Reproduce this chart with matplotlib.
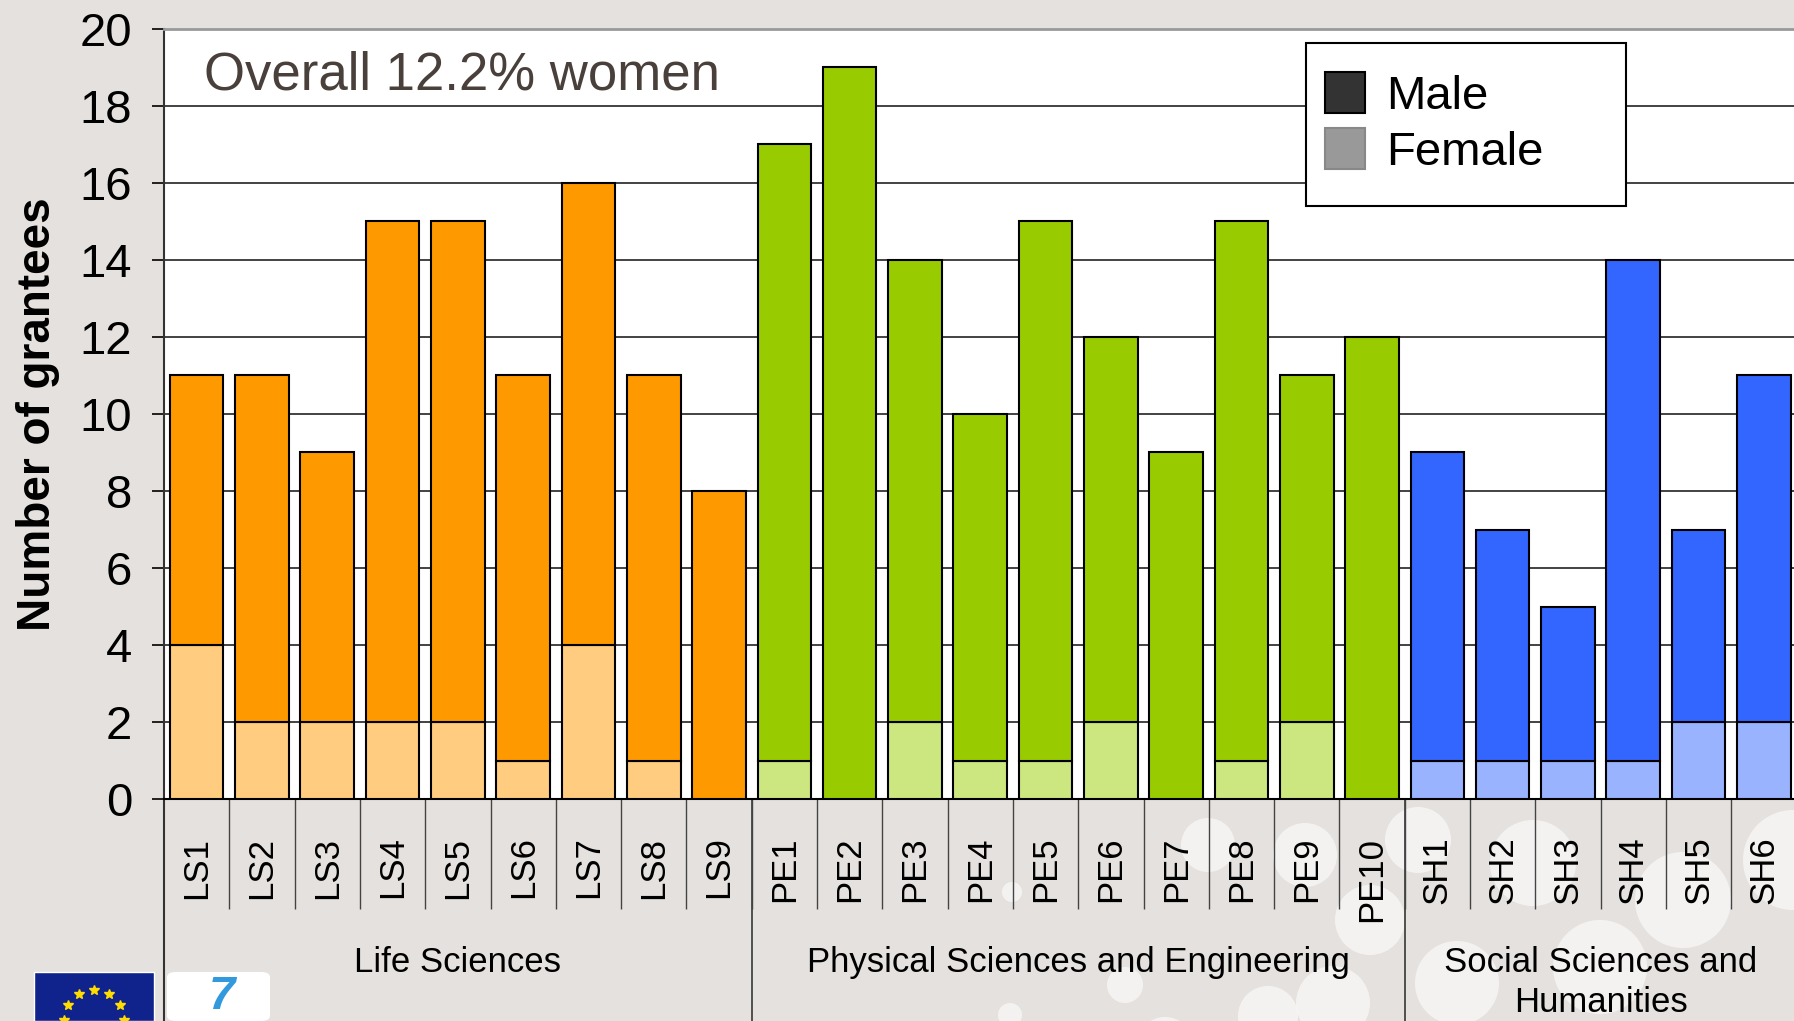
import matplotlib
matplotlib.use('Agg')
import matplotlib.pyplot as plt
from matplotlib.patches import Rectangle, Ellipse, Patch, FancyBboxPatch
import matplotlib.transforms as mtransforms
import numpy as np

# ---------------- data ----------------
categories = ['LS1', 'LS2', 'LS3', 'LS4', 'LS5', 'LS6', 'LS7', 'LS8', 'LS9',
              'PE1', 'PE2', 'PE3', 'PE4', 'PE5', 'PE6', 'PE7', 'PE8', 'PE9', 'PE10',
              'SH1', 'SH2', 'SH3', 'SH4', 'SH5', 'SH6']
totals = [11, 11, 9, 15, 15, 11, 16, 11, 8,
          17, 19, 14, 10, 15, 12, 9, 15, 11, 12,
          9, 7, 5, 14, 7, 11]
female = [4, 2, 2, 2, 2, 1, 4, 1, 0,
          1, 0, 2, 1, 1, 2, 0, 1, 2, 0,
          1, 1, 1, 1, 2, 2]
groups = ['Life Sciences', 'Physical Sciences and Engineering', 'Social Sciences and\nHumanities']
group_sizes = [9, 10, 6]
male_colors = ['#FF9900', '#99CC00', '#3366FF']
female_colors = ['#FFCC80', '#CCE680', '#99B3FF']
legend_labels = ['Male', 'Female']
legend_colors = ['#333333', '#999999']
annotation = 'Overall 12.2% women'
ylabel = 'Number of grantees'

male = [t - f for t, f in zip(totals, female)]
group_idx = np.repeat(np.arange(len(group_sizes)), group_sizes)
mcols = [male_colors[g] for g in group_idx]
fcols = [female_colors[g] for g in group_idx]

plt.rcParams['font.family'] = ['Liberation Sans', 'DejaVu Sans']

W, H = 1794, 1021
fig = plt.figure(figsize=(W / 100, H / 100), dpi=100)
fig.patch.set_facecolor('#E5E1DE')

# decorative background circles (behind everything)
decor = [(1012, 892, 10), (1208, 845, 27), (1305, 855, 32), (1268, 1016, 30),
         (1370, 920, 35), (1165, 1045, 28), (1418, 840, 33), (1533, 863, 43),
         (1683, 900, 48), (1640, 760, 37), (1793, 860, 50), (1457, 983, 42),
         (1600, 967, 47), (1333, 1003, 37), (1074, 1100, 22), (1125, 985, 18),
         (1010, 1015, 12)]
for cx, cy, r in decor:
    fig.patches.append(Ellipse((cx / W, 1 - cy / H), 2 * r / W, 2 * r / H,
                               transform=fig.transFigure, facecolor='white',
                               alpha=0.6, edgecolor='none', zorder=-5))

cat_w = 65.3
AXW = 25 * cat_w
ax = fig.add_axes([164 / W, 222 / H, AXW / W, 770 / H])
ax.set_zorder(2)
ax.set_facecolor('white')
x = np.arange(len(categories))

ax.bar(x, female, 0.82, color=fcols, edgecolor='black', linewidth=1.5, zorder=3)
ax.bar(x, male, 0.82, bottom=female, color=mcols, edgecolor='black', linewidth=1.5, zorder=3)

ax.set_xlim(-0.5, 24.5)
ax.set_ylim(0, 20)
ax.set_yticks(np.arange(0, 21, 2))
ax.yaxis.grid(True, color='#222222', linewidth=1.2)
ax.set_axisbelow(True)
ax.tick_params(axis='y', length=9, width=1.2, pad=14, labelsize=34, direction='out', colors='black')

ax.set_xticks(x)
ax.set_xticklabels(categories, rotation=90, fontsize=25, va='top')
ax.tick_params(axis='x', which='major', length=0, pad=27)
ax.set_xticks(np.arange(0.5, 24, 1), minor=True)
ax.tick_params(axis='x', which='minor', length=79, width=1.0, color='#444444')

ax.spines['right'].set_visible(False)
ax.spines['top'].set_color('#999999')
ax.spines['top'].set_linewidth(2)
ax.spines['bottom'].set_color('black')
ax.spines['bottom'].set_linewidth(1.5)
ax.spines['left'].set_color('#333333')
ax.spines['left'].set_linewidth(1.5)

ax.set_ylabel(ylabel, fontsize=33, fontweight='bold')
ax.yaxis.set_label_coords((60 - 164) / AXW, 0.5)

trans = mtransforms.blended_transform_factory(ax.transData, ax.transAxes)
bottom_ax = -222 / 770
ax.plot([-0.5, -0.5], [0, bottom_ax], transform=trans, color='#333333', lw=1.5, clip_on=False)
start = 0
centers = []
for gs in group_sizes:
    centers.append(start + (gs - 1) / 2)
    start += gs
    if start < len(categories):
        ax.plot([start - 0.5, start - 0.5], [0, bottom_ax], transform=trans,
                color='#444444', lw=1.3, clip_on=False)
for c, g in zip(centers, groups):
    ax.text(c, -0.191, g, transform=trans, ha='center', va='top', fontsize=25,
            linespacing=1.25)

ax.text(40 / AXW, (799 - 89) / 770, annotation, transform=ax.transAxes,
        fontsize=38, color='#4A403B', va='baseline', ha='left')

# legend
x0 = (1306 - 164) / AXW
x1 = (1626 - 164) / AXW
y0 = (799 - 206) / 770
y1 = (799 - 43) / 770
ax.add_patch(Rectangle((x0, y0), x1 - x0, y1 - y0, transform=ax.transAxes,
                       facecolor='white', edgecolor='black', linewidth=1.5, zorder=5))
handles = [Patch(facecolor=legend_colors[0], edgecolor='black', linewidth=1.5),
           Patch(facecolor=legend_colors[1], edgecolor='#888888', linewidth=1.5)]
leg = ax.legend(handles, legend_labels, loc='upper left',
                bbox_to_anchor=((1325 - 164) / AXW, (799 - 72) / 770),
                frameon=False, fontsize=34, handlelength=0.85, handleheight=0.95,
                handletextpad=0.45, labelspacing=0.2, borderpad=0, borderaxespad=0)
leg.set_zorder(6)

# logos (decorative)
fig.patches.append(Rectangle((34 / W, 0), 120 / W, 49 / H, transform=fig.transFigure,
                             facecolor='#10238C', edgecolor='white', linewidth=1, zorder=1))
ang = np.linspace(0, 2 * np.pi, 12, endpoint=False)
sx = (94 + 30 * np.sin(ang)) / W
sy = (30 * np.cos(ang) + 1) / H
fig.lines.append(plt.Line2D(sx, sy, transform=fig.transFigure, marker='*', color='#FFDD00',
                            linestyle='none', markersize=7, zorder=2))
fig.patches.append(FancyBboxPatch((167 / W, 0), 103 / W, 49 / H,
                                  boxstyle='round,pad=0,rounding_size=0.005',
                                  transform=fig.transFigure, facecolor='white',
                                  edgecolor='none', zorder=1))
fig.text(222 / W, 2 / H, '7', fontsize=34, color='#3399DD', style='italic',
         fontweight='bold', ha='center', va='bottom', zorder=3)

fig.savefig('out.png', dpi=100, facecolor=fig.get_facecolor())
